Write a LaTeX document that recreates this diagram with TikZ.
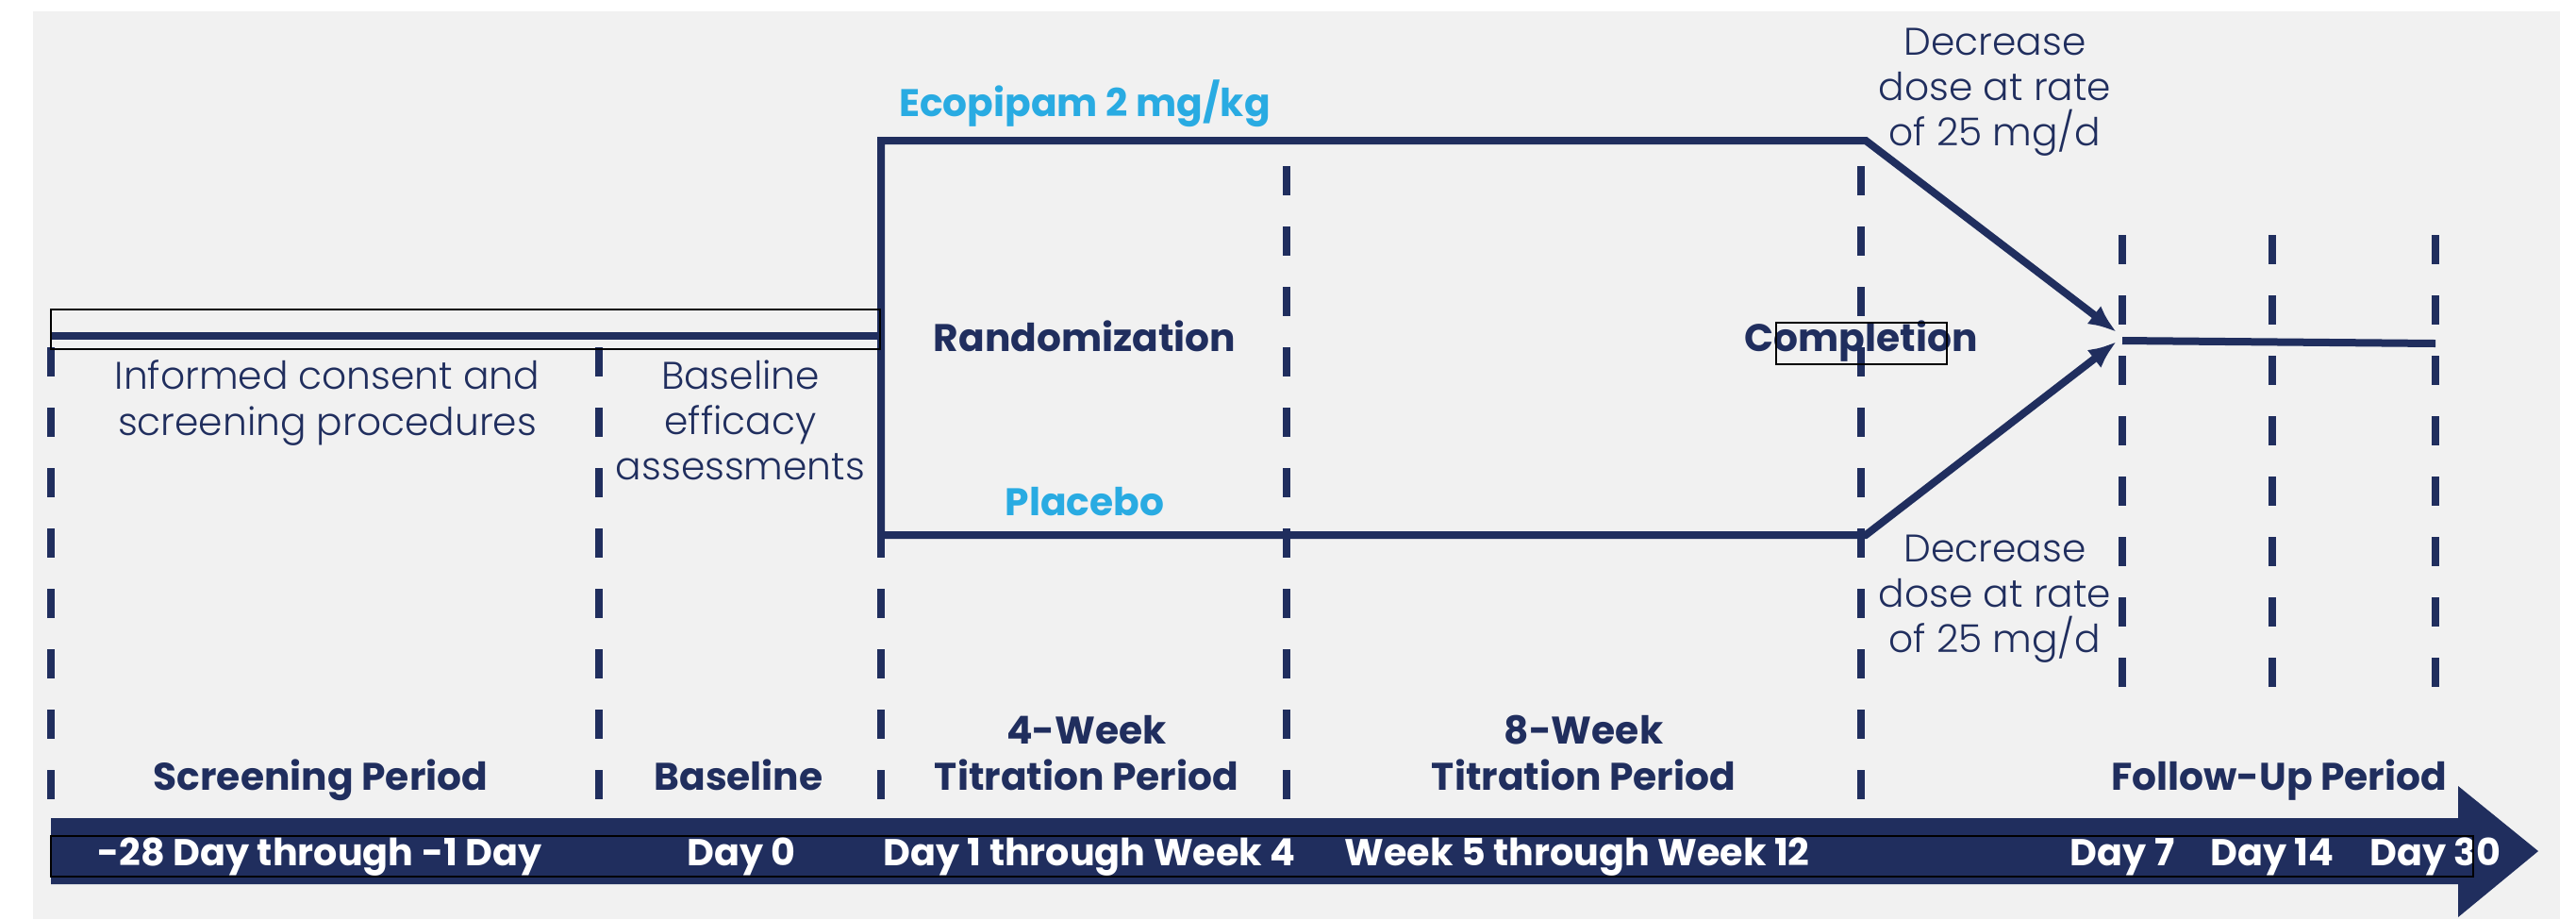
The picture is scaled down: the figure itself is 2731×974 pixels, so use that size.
\documentclass[tikz,border=0pt]{standalone}
\usepackage{fontspec}
\setmainfont{Poppins}
\newfontfamily\lightfont{Poppins}[UprightFont={* Light}]
\usetikzlibrary{arrows.meta}

\definecolor{navy}{RGB}{32,46,94}
\definecolor{skyblue}{RGB}{41,171,226}
\definecolor{panelgray}{RGB}{241,241,241}

\tikzset{
  arm/.style={navy, line width=0.8mm},
  visit/.style={navy, line width=0.75mm, dash pattern=on 3.1mm off 3.3mm},
  note/.style={navy, font=\lightfont\fontsize{11.6}{13.7}\selectfont, align=center},
  period/.style={navy, font=\bfseries\fontsize{11.6}{13.7}\selectfont, align=center},
  armlabel/.style={skyblue, font=\bfseries\fontsize{11.6}{13.7}\selectfont, anchor=base},
  daylabel/.style={white, font=\bfseries\fontsize{11.3}{13.7}\selectfont, anchor=base},
  outline/.style={black, line width=0.2mm},
}

\begin{document}
\begin{tikzpicture}[x=0.1mm, y=-0.1mm]
  \useasboundingbox (0,0) rectangle (2731,974);
  \fill[panelgray] (35,12) rectangle (2714,974);

  % visit lines
  \foreach \x in {54,635,934} \draw[visit] (\x,368) -- (\x,848);
  \foreach \x in {1364,1973} \draw[visit] (\x,176) -- (\x,848);
  \foreach \x in {2250,2409,2582} \draw[visit] (\x,249) -- (\x,729);

  \coordinate (scrStart) at (54,356);
  \coordinate (randMid) at (934,356);
  \coordinate (ecoStart) at (934,149);
  \coordinate (ecoEnd) at (1978,149);
  \coordinate (placStart) at (934,567);
  \coordinate (placEnd) at (1978,567);
  \coordinate (tipUp) at (2244,352);
  \coordinate (tipDown) at (2244,362);
  \coordinate (fuStart) at (2250,361);
  \coordinate (fuEnd) at (2582,364);

  \draw[arm] (scrStart) -- (randMid);
  \draw[arm, {Latex[length=3mm,width=2.4mm]}-{Latex[length=3mm,width=2.4mm]}]
    (tipUp) -- (ecoEnd) -- (ecoStart) -- (placStart) -- (placEnd) -- (tipDown);
  \draw[arm] (fuStart) -- (fuEnd);

  % timeline arrow
  \fill[navy] (54,867) -- (2606,867) -- (2606,833) -- (2691,902)
    -- (2606,972) -- (2606,937) -- (54,937) -- cycle;

  \node[armlabel] (eco) at (1150,123) {Ecopipam 2 mg/kg};
  \node[armlabel] (plac) at (1150,546) {Placebo};
  \node[period, anchor=base] (rand) at (1150,372) {Randomization};
  \node[period, anchor=base] (compl) at (1973,372) {Completion};

  \node[note] (consent) at (347,427) {Informed consent and\\screening procedures};
  \node[note] (basenote) at (785,445) {Baseline\\efficacy\\assessments};
  \node[note] (taperUp) at (2115,98) {Decrease\\dose at rate\\of 25 mg/d};
  \node[note] (taperDown) at (2115,635) {Decrease\\dose at rate\\of 25 mg/d};

  \node[period, anchor=base] (screening) at (340,837) {Screening Period};
  \node[period, anchor=base] (baseline) at (783,837) {Baseline};
  \node[period] (titr4) at (1152,798) {4-Week\\Titration Period};
  \node[period] (titr8) at (1679,798) {8-Week\\Titration Period};
  \node[period, anchor=base] (followup) at (2416,837) {Follow-Up Period};

  \node[daylabel] (d1) at (339,917) {-28 Day through -1 Day};
  \node[daylabel] (d2) at (786,917) {Day 0};
  \node[daylabel] (d3) at (1155,917) {Day 1 through Week 4};
  \node[daylabel] (d4) at (1672,917) {Week 5 through Week 12};
  \node[daylabel] (d5) at (2250,917) {Day 7};
  \node[daylabel] (d6) at (2409,917) {Day 14};
  \node[daylabel] (d7) at (2582,917) {Day 30};

  % text box outlines
  \draw[outline] (54,328) rectangle (933,370);
  \draw[outline] (1883,342) rectangle (2064,386);
  \draw[outline] (54,886) rectangle (2622,929);
\end{tikzpicture}
\end{document}
